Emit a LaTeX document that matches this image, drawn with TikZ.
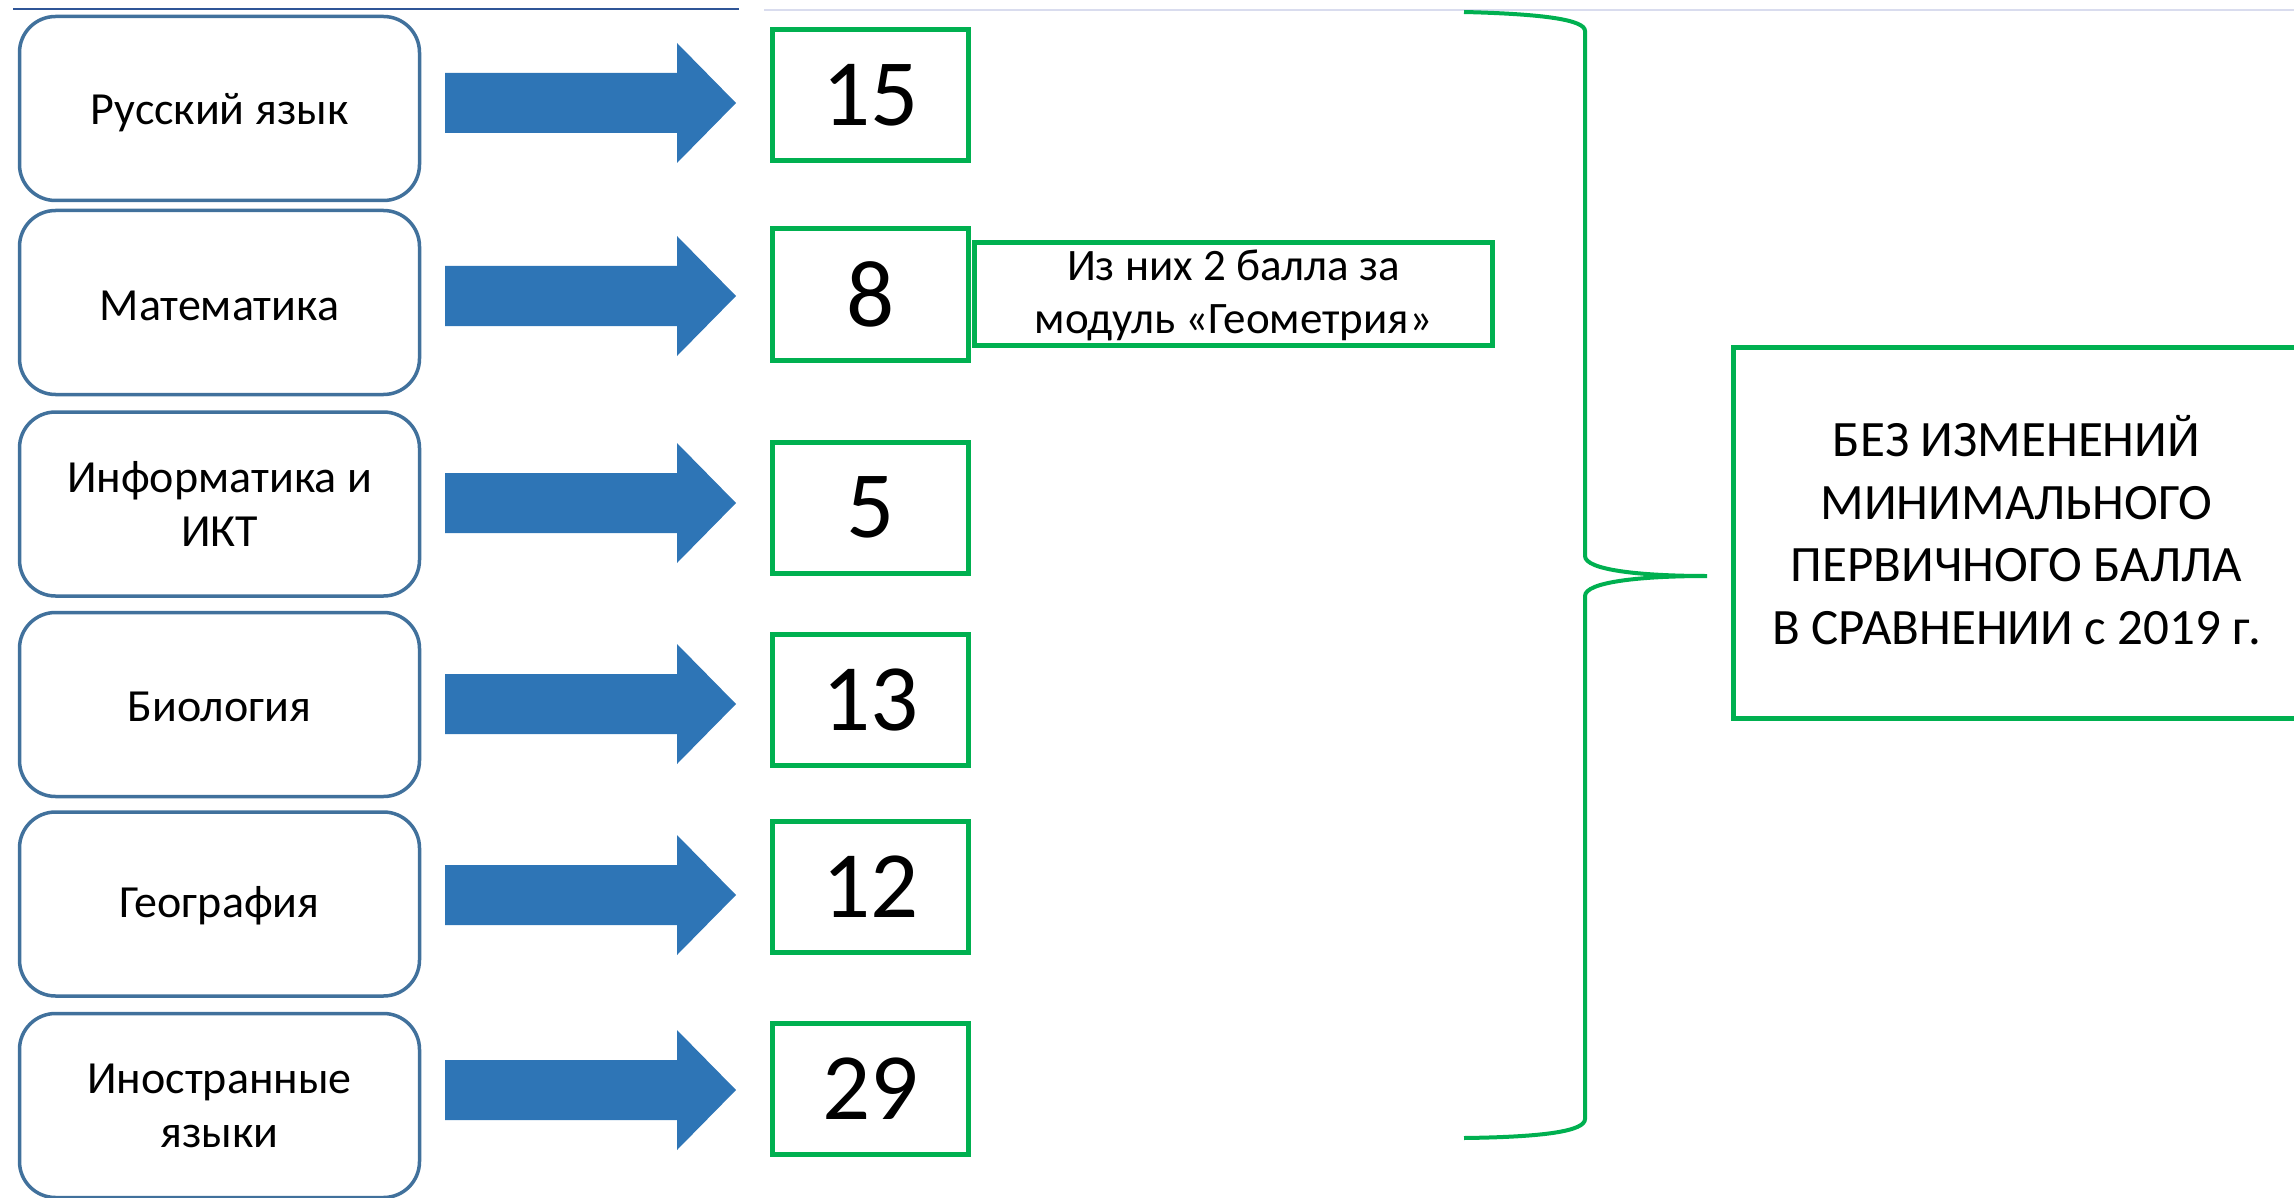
\documentclass[tikz,border=0pt]{standalone}
\usepackage{fontspec}
\setmainfont{Carlito}
\definecolor{boxblue}{RGB}{65,113,156}
\definecolor{arrblue}{RGB}{46,117,182}
\definecolor{grn}{RGB}{0,176,80}
\definecolor{topblue}{RGB}{47,85,151}
\definecolor{toplight}{RGB}{217,220,238}
\begin{document}
\begin{tikzpicture}[x=1pt,y=-1pt,
  subj/.style={draw=boxblue, line width=3.5pt, rounded corners=36pt, fill=white,
    minimum width=400pt, minimum height=184pt, align=center, inner sep=0pt,
    font=\fontsize{46}{54}\selectfont},
  subjtext/.style={align=center, font=\fontsize{46}{54}\selectfont},
  num/.style={draw=grn, line width=5pt, fill=white, minimum width=196pt,
    minimum height=131pt, inner sep=0pt, font=\fontsize{95}{100}\selectfont},
  notebox/.style={draw=grn, line width=5pt, minimum width=518pt, minimum height=103pt,
    inner sep=0pt},
  notetextstyle/.style={align=center, font=\fontsize{45}{53}\selectfont},
  resbox/.style={draw=grn, line width=5pt, minimum width=566pt, minimum height=371pt,
    inner sep=0pt},
  restextstyle/.style={align=center, font=\fontsize{51}{62.5}\selectfont},
  blockarrow/.style={fill=arrblue},
  bracestyle/.style={draw=grn, line width=4pt}
]
\useasboundingbox (0,0) rectangle (2294,1198);
\clip (0,0) rectangle (2294,1198);

% top thin lines
\coordinate (tl1) at (13,9);
\coordinate (tl2) at (739,9);
\coordinate (tl3) at (764,10);
\coordinate (tl4) at (2294,10);
\draw[topblue, line width=2pt] (tl1) -- (tl2);
\draw[toplight, line width=2pt] (tl3) -- (tl4);

% subject boxes
\node[subj] (s1) at (219.5,108.5) {};
\node[subj] (s2) at (219.5,302.5) {};
\node[subj] (s3) at (219.5,504) {};
\node[subj] (s4) at (219.5,704.5) {};
\node[subj] (s5) at (219.5,904) {};
\node[subj] (s6) at (219.5,1105.5) {};
\node[subjtext] (t1) at ([yshift=-4pt]s1.center) {Русский язык};
\node[subjtext] (t2) at ([yshift=-3pt]s2.center) {Математика};
\node[subjtext] (t3) at (s3.center) {Информатика и\\ИКТ};
\node[subjtext] (t4) at ([yshift=-2pt]s4.center) {Биология};
\node[subjtext] (t5) at ([yshift=-2pt]s5.center) {География};
\node[subjtext] (t6) at (s6.center) {Иностранные\\языки};

% block arrows
\foreach \c in {103,296,503,704,895,1090}{
  \fill[blockarrow] (445,{\c-30}) -- (677,{\c-30}) -- (677,{\c-60}) -- (736,\c)
    -- (677,{\c+60}) -- (677,{\c+30}) -- (445,{\c+30}) -- cycle;
}

% number boxes
\node[num] (n1) at (870.5,95) {15};
\node[num] (n2) at (870.5,294.5) {8};
\node[num] (n3) at (870.5,507.5) {5};
\node[num] (n4) at (870.5,700) {13};
\node[num] (n5) at (870.5,886.5) {12};
\node[num] (n6) at (870.5,1088.5) {29};

% note
\node[notebox] (note) at (1233.5,294) {};
\node[notetextstyle] (notetext) at ([yshift=-1pt]note.center) {Из них 2 балла за\\модуль «Геометрия»};

% brace
\draw[bracestyle] (1464,12) .. controls (1545,14) and (1585,20) .. (1585,31)
  -- (1585,556) .. controls (1585,570) and (1640,576) .. (1707,576)
  .. controls (1640,576) and (1585,582) .. (1585,596)
  -- (1585,1119) .. controls (1585,1131) and (1545,1137) .. (1464,1138);

% result box
\node[resbox] (res) at (2016.5,533) {};
\node[restextstyle] (restext) at ([yshift=3pt]res.center) {БЕЗ ИЗМЕНЕНИЙ\\МИНИМАЛЬНОГО\\ПЕРВИЧНОГО БАЛЛА\\В СРАВНЕНИИ с 2019 г.};
\end{tikzpicture}
\end{document}
